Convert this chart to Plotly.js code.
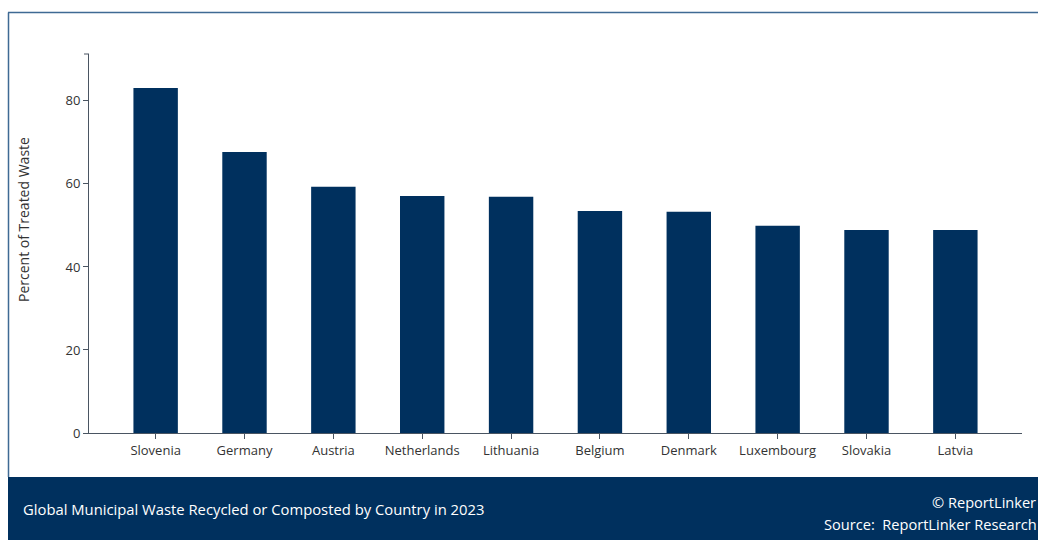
<!DOCTYPE html>
<html>
<head>
<meta charset="utf-8">
<script src="https://cdn.plot.ly/plotly-3.0.1.min.js"></script>
<style>html,body{margin:0;padding:0;background:#fff;}#chart{width:1038px;height:540px;}</style>
</head>
<body>
<div id="chart"></div>
<script>
const countries = ["Slovenia","Germany","Austria","Netherlands","Lithuania","Belgium","Denmark","Luxembourg","Slovakia","Latvia"];
const recycledPct = [83.1, 67.7, 59.3, 57.1, 56.9, 53.5, 53.3, 49.9, 48.9, 48.9];
const yTicks = [0, 20, 40, 60, 80];
const chartTitle = "Global Municipal Waste Recycled or Composted by Country in 2023";
const yTitle = "Percent of Treated Waste";
const credit = "© ReportLinker";
const source = "Source:  ReportLinker Research";

const W = 1038, H = 540;
const L = 89, R = 1022, T = 54, B = 433;
const px = x => (x - L) / (R - L);
const py = y => (B - y) / (B - T);
const navy = "#00305e";
const font = "'Open Sans', 'Noto Sans', sans-serif";

const trace = {
  type: "bar",
  x: countries.map((c, i) => i),
  y: recycledPct,
  marker: {color: navy, line: {width: 0}},
  width: 0.5,
  hoverinfo: "x+y"
};

const layout = {
  width: W, height: H,
  margin: {l: L, r: W - R, t: T, b: H - B, pad: 0},
  paper_bgcolor: "#ffffff",
  plot_bgcolor: "#ffffff",
  showlegend: false,
  font: {family: font, size: 13, color: "#333"},
  xaxis: {
    range: [-0.75, countries.length - 0.25],
    tickvals: countries.map((c, i) => i),
    ticktext: countries,
    showgrid: false, zeroline: false,
    showline: true, linecolor: "#4a5562", linewidth: 1,
    ticks: "outside", ticklen: 5, tickcolor: "#4a5562",
    tickfont: {family: font, size: 13, color: "#333"},
    fixedrange: true
  },
  yaxis: {
    range: [0, 91.3],
    tickvals: yTicks,
    showgrid: false, zeroline: false,
    showline: true, linecolor: "#4a5562", linewidth: 1,
    ticks: "outside", ticklen: 5, tickcolor: "#4a5562",
    tickfont: {family: font, size: 13, color: "#333"},
    fixedrange: true
  },
  shapes: [
    {type: "line", xref: "paper", yref: "paper", x0: px(84), x1: px(89), y0: 1, y1: 1, line: {color: "#4a5562", width: 1}},
    {type: "rect", xref: "paper", yref: "paper", x0: px(8), x1: px(1040), y0: py(477), y1: py(542), fillcolor: navy, line: {width: 0}, layer: "above"},
    {type: "line", xref: "paper", yref: "paper", x0: px(8.5), x1: px(8.5), y0: py(12.5), y1: py(477), line: {color: "#3f6a94", width: 1.5}},
    {type: "line", xref: "paper", yref: "paper", x0: px(8), x1: px(1040), y0: py(12.5), y1: py(12.5), line: {color: "#3f6a94", width: 1.5}}
  ],
  annotations: [
    {text: yTitle, xref: "paper", yref: "paper", x: px(24), y: py(220), xanchor: "center", yanchor: "middle", textangle: -90, showarrow: false, font: {family: font, size: 14, color: "#333"}},
    {text: chartTitle, xref: "paper", yref: "paper", x: px(21), y: py(509), xanchor: "left", yanchor: "middle", showarrow: false, font: {family: font, size: 14.8, color: "#ffffff"}},
    {text: credit, xref: "paper", yref: "paper", x: px(1038), y: py(502), xanchor: "right", yanchor: "middle", showarrow: false, font: {family: font, size: 14.6, color: "#ffffff"}},
    {text: source, xref: "paper", yref: "paper", x: px(1039), y: py(524), xanchor: "right", yanchor: "middle", showarrow: false, font: {family: font, size: 14.6, color: "#ffffff"}}
  ]
};

Plotly.newPlot("chart", [trace], layout, {displayModeBar: false, staticPlot: true});
</script>
</body>
</html>
